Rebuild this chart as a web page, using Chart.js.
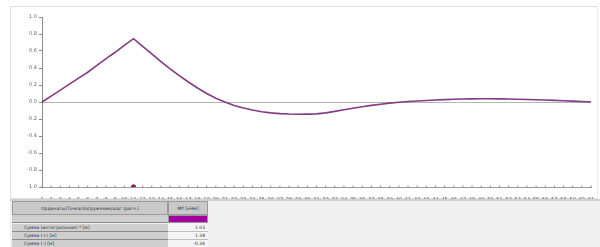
<!DOCTYPE html>
<html>
<head>
<meta charset="utf-8">
<script src="https://cdn.jsdelivr.net/npm/chart.js@4.4.0/dist/chart.umd.min.js"></script>
<style>
  body { margin: 0; width: 600px; height: 247px; background: #fff; overflow: hidden; font-family: "DejaVu Sans", sans-serif; position: relative; }
  #frame { position: absolute; left: 10px; top: 6px; width: 586px; height: 191px; border: 1px solid #e0e0e0; border-right-color: #ececec; }
  #wrap { position: absolute; left: 0; top: 0; width: 600px; height: 200px; }
  #table { position: absolute; left: 10px; top: 199px; width: 590px; height: 48px; background: #f0f0f0; border-top: 2px solid #d0d0d0; }
  .cell { position: absolute; font-size: 4.5px; color: #333; white-space: nowrap; overflow: hidden; }
  .hdr { background: #c9c9c9; text-align: center; border: 1px solid #9a9a9a; box-sizing: border-box; }
  .lbl { background: #cfcfcf; padding-left: 12px; border-bottom: 1px solid #8a8a8a; box-sizing: border-box; }
  .val { background: #f4f4f4; text-align: right; padding-right: 3px; border-bottom: 1px solid #bdbdbd; box-sizing: border-box; }
</style>
</head>
<body>
<div id="frame"></div>
<div id="wrap"><canvas id="c" width="600" height="200"></canvas></div>
<div id="table"></div>
<script>
// influence line ordinates, points 1..61
const points = Array.from({ length: 61 }, (_, i) => String(i + 1));
const ordinates = [
  0, 0.07, 0.14, 0.21, 0.28, 0.35, 0.43, 0.51, 0.585, 0.665,
  0.745, 0.655, 0.565, 0.475, 0.39, 0.31, 0.235, 0.165, 0.10, 0.045,
  0.0, -0.04, -0.07, -0.095, -0.115, -0.128, -0.137, -0.142, -0.144, -0.143,
  -0.14, -0.128, -0.11, -0.092, -0.074, -0.056, -0.04, -0.026, -0.013, -0.003,
  0.005, 0.012, 0.018, 0.023, 0.028, 0.032, 0.035, 0.037, 0.038, 0.038,
  0.037, 0.035, 0.033, 0.03, 0.027, 0.023, 0.019, 0.015, 0.01, 0.005,
  0.0
];
const loadPoint = 11;
const yTicks = [1.0, 0.8, 0.6, 0.4, 0.2, 0.0, -0.2, -0.4, -0.6, -0.8, -1.0];

const tableHeader = ['Ординаты/Точка/Загружение/шаг (расч.)', 'MY [кНм]'];
const rowLabels = ['Сумма (интегральная) * [м]', 'Сумма (+) [м]', 'Сумма (-) [м]'];
const rowValues = ['1.03', '1.38', '-0.34'];

const axisMarks = points.map(() => -1);
const loadMark = points.map((p, i) => (i + 1 === loadPoint ? -1 : null));

const ctx = document.getElementById('c').getContext('2d');
new Chart(ctx, {
  type: 'line',
  data: {
    labels: points,
    datasets: [
      {
        data: ordinates,
        borderColor: '#843a84',
        borderWidth: 1.6,
        pointRadius: 0,
        tension: 0,
        order: 1
      },
      {
        data: axisMarks,
        showLine: false,
        pointStyle: 'line',
        rotation: 90,
        pointRadius: 1.5,
        borderColor: '#8c8c8c',
        borderWidth: 1,
        order: 3
      },
      {
        data: loadMark,
        showLine: false,
        pointRadius: 2.2,
        backgroundColor: '#8b1a5e',
        borderColor: '#8b1a5e',
        order: 2
      }
    ]
  },
  options: {
    responsive: false,
    animation: false,
    events: [],
    layout: { padding: { left: 10, right: 9, top: 17, bottom: 0 } },
    plugins: { legend: { display: false }, tooltip: { enabled: false } },
    scales: {
      x: {
        offset: false,
        afterFit: (axis) => { axis.height = 13; },
        border: { display: true, color: '#9a9a9a', dash: [2, 2] },
        grid: { display: false },
        ticks: {
          autoSkip: false, maxRotation: 0, padding: 2,
          font: { size: 5, family: 'DejaVu Sans' }, color: '#555'
        }
      },
      y: {
        min: -1, max: 1,
        afterFit: (axis) => { axis.width = 32; },
        afterBuildTicks: (axis) => { axis.ticks = yTicks.map(v => ({ value: v })); },
        border: { display: true, color: '#8c8c8c' },
        grid: {
          drawOnChartArea: true,
          tickLength: 3,
          tickColor: '#8c8c8c',
          color: (c) => (c.tick && c.tick.value === 0 ? '#b4b4b4' : 'rgba(0,0,0,0)'),
          lineWidth: 1
        },
        ticks: {
          padding: 2,
          font: { size: 5, family: 'DejaVu Sans' }, color: '#666',
          callback: (v) => Number(v).toFixed(1)
        }
      }
    }
  }
});

// summary table under the chart
const table = document.getElementById('table');
function cell(cls, x, y, w, h, text) {
  const d = document.createElement('div');
  d.className = 'cell ' + cls;
  d.style.left = x + 'px'; d.style.top = y + 'px';
  d.style.width = w + 'px'; d.style.height = h + 'px';
  d.style.lineHeight = h + 'px';
  d.textContent = text;
  table.appendChild(d);
}
cell('hdr', 2, 0, 156, 14, tableHeader[0]);
cell('hdr', 158, 0, 40, 14, tableHeader[1]);
cell('lbl', 2, 14, 156, 8, '');
cell('hdr', 158, 14, 40, 8, '');
table.lastChild.style.background = '#a3009f';
rowLabels.forEach((t, i) => {
  cell('lbl', 2, 23 + i * 8, 156, 8, t);
  cell('val', 158, 23 + i * 8, 40, 8, rowValues[i]);
});
</script>
</body>
</html>
